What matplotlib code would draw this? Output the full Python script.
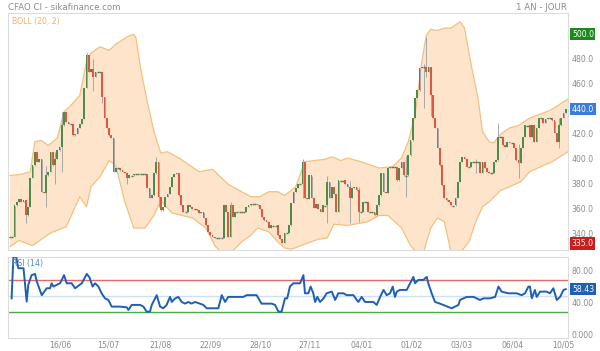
import numpy as np
import matplotlib
matplotlib.use("Agg")
import matplotlib.pyplot as plt
from matplotlib.transforms import blended_transform_factory, offset_copy

# daily closes (one per trading day)
closes = [
    338, 338, 363, 366, 368, 366, 367, 355, 362, 385,
    395, 406, 398, 400, 374, 373, 387, 390, 406, 395,
    400, 407, 410, 427, 438, 430, 428, 428, 419, 420,
    425, 428, 432, 457, 483, 470, 472, 466, 470, 470,
    470, 450, 433, 425, 419, 417, 390, 393, 393, 391,
    390, 389, 385, 387, 387, 388, 388, 388, 388, 388,
    388, 377, 369, 371, 389, 398, 370, 359, 362, 370,
    372, 378, 386, 388, 389, 371, 363, 358, 358, 363,
    362, 360, 360, 359, 357, 358, 353, 347, 342, 339,
    338, 337, 337, 337, 337, 363, 358, 338, 363, 354,
    358, 358, 358, 358, 358, 362, 363, 364, 364, 364,
    363, 360, 354, 351, 350, 345, 347, 347, 347, 339,
    336, 333, 341, 341, 347, 365, 374, 377, 380, 380,
    398, 369, 368, 387, 369, 361, 364, 360, 358, 363,
    363, 382, 369, 378, 372, 358, 383, 383, 383, 380,
    378, 369, 377, 378, 375, 358, 358, 366, 366, 358,
    358, 358, 355, 363, 371, 389, 374, 373, 393, 394,
    394, 394, 383, 393, 398, 387, 387, 403, 415, 433,
    449, 455, 473, 474, 474, 470, 474, 451, 433, 425,
    409, 395, 379, 369, 367, 366, 363, 363, 369, 382,
    398, 402, 400, 394, 394, 398, 398, 398, 398, 389,
    398, 393, 390, 389, 389, 398, 399, 418, 418, 411,
    410, 414, 413, 413, 409, 399, 397, 409, 418, 427,
    427, 418, 427, 414, 425, 433, 433, 429, 432, 433,
    433, 431, 421, 414, 427, 433, 437, 440,
]

# visible long wicks
wick_idx = [7, 16, 20, 23, 34, 37, 41, 52, 65, 66, 98, 130, 141, 151, 155,
            176, 184, 185, 187, 207, 217, 226, 244]
wick_low = [349, 362, 380, 390, 457, 455, 445, 380, 388, 362, 338, 369, 349,
            349, 350, 370, 441, 466, 435, 389, 411, 385, 409]
wick_high = [367, 395, 406, 438, 485, 480, 470, 390, 402, 398, 366, 400, 387,
             383, 378, 403, 476, 498, 474, 400, 429, 412, 433]

# Bollinger (20, 2) bands
up_idx = [0, 5, 9, 11, 14, 17, 21, 24, 27, 31, 34, 36, 40, 44, 47, 52, 55, 56,
          58, 61, 64, 67, 70, 76, 84, 90, 94, 97, 100, 107, 111, 115, 119,
          122, 127, 131, 140, 143, 147, 150, 156, 164, 170, 174, 177, 180,
          183, 185, 187, 190, 193, 196, 200, 202, 203, 205, 208, 210, 213,
          215, 218, 222, 226, 231, 237, 241, 246, 248]
up_val = [387, 388, 390, 414, 415, 411, 417, 438, 443, 451, 478, 485, 490, 487,
          492, 498, 500, 497, 473, 446, 422, 405, 406, 400, 390, 392, 385,
          380, 377, 370, 370, 374, 374, 371, 378, 398, 400, 402, 399, 401,
          398, 393, 394, 401, 414, 435, 478, 499, 504, 503, 505, 505, 510,
          505, 495, 475, 449, 422, 414, 413, 420, 425, 427, 433, 437, 440,
          446, 448]
lo_idx = [0, 4, 10, 18, 25, 29, 31, 34, 36, 40, 44, 47, 51, 55, 60, 64, 67,
          72, 81, 87, 91, 94, 98, 103, 107, 110, 115, 119, 122, 125, 128,
          131, 137, 141, 144, 150, 159, 164, 168, 174, 178, 181, 184, 187,
          190, 193, 196, 200, 204, 207, 210, 213, 218, 222, 227, 231, 237,
          241, 248]
lo_val = [330, 335, 331, 341, 346, 362, 370, 362, 378, 386, 399, 395, 366,
          345, 345, 355, 367, 357, 353, 345, 331, 325, 325, 334, 339, 345,
          342, 334, 329, 328, 330, 332, 336, 337, 348, 347, 350, 355, 355,
          345, 331, 325, 327, 345, 353, 350, 326, 325, 334, 350, 362, 366,
          375, 378, 382, 390, 395, 398, 406]

# RSI (14)
rsi_idx = [0.7, 1.5, 2.7, 3.7, 6, 7.4, 8.1, 9.6, 11.1, 11.9, 14.1, 16.3, 17.8,
           18.5, 19.3, 20.7, 22.2, 23, 24, 25.2, 27.4, 28.9, 31.9, 34.1, 35.3,
           36.7, 37.8, 39.3, 40.7, 42.2, 43.7, 45.2, 47.4, 48.9, 51.9, 52.6,
           54.1, 57.8, 59.3, 60.7, 62.2, 63, 65.2, 66.7, 68.1, 69.6, 71.1,
           71.9, 73.3, 74.8, 76.3, 77.8, 79.3, 80.7, 82.2, 84.4, 85.9, 87.4,
           90.4, 92.6, 94.1, 95.6, 97, 99.3, 103.7, 105.2, 109.6, 111.8,
           116.3, 117.8, 119.3, 120.7, 122.2, 123.2, 124.4, 125.9, 128.9,
           130.4, 131.1, 132.6, 133.6, 134.8, 135.6, 136.6, 137.8, 139.3,
           140.7, 143, 144.5, 145.9, 148.2, 149.6, 152.6, 154.8, 156.3, 157.8,
           161.5, 163, 164.5, 166, 167.4, 168.9, 170.1, 171.1, 171.9, 173.3,
           176.3, 177.8, 179.3, 180, 181.5, 183.7, 185.2, 185.9, 187.4, 188.9,
           191.1, 194.1, 196.3, 197.8, 199.3, 200, 201.5, 203, 206, 208.9,
           210.4, 213.3, 215.6, 217.1, 218.5, 221.5, 225.2, 227.4, 228.9,
           230.4, 231.1, 231.9, 233.3, 234.1, 235.6, 238.5, 240, 241.5, 243,
           244.5, 246, 247]
rsi_val = [47, 99, 99, 84.6, 84.6, 43, 63.8, 76, 77.5, 68, 51, 59.6, 59.6,
           65.8, 61.7, 63.8, 65.8, 70, 76, 65.8, 65.8, 59.6, 65.8, 77.5, 73.3,
           61.7, 65.8, 61.7, 53.3, 47, 45, 36.7, 36.7, 36.7, 35.8, 32.5, 38.8,
           38.8, 36.7, 30.4, 30.4, 38.8, 51, 36.7, 34.6, 38.8, 48.8, 42.5,
           46.7, 48.8, 42.5, 40.4, 42.5, 40.4, 42.5, 40.4, 38.8, 34.6, 34.6,
           34.6, 51, 42.5, 48.8, 48.8, 48.8, 51, 51, 40.4, 40.4, 38.8, 30.4,
           30.4, 47, 47, 61.7, 65.8, 65.8, 76, 53.3, 53.3, 61.7, 53.3, 42.5,
           48.8, 42.5, 46.7, 53.3, 55.4, 45, 53.3, 53.3, 51, 51, 42.5, 48.8,
           42.5, 42.5, 38.8, 48.8, 57.5, 51, 53.3, 61.7, 48.8, 55.4, 57.5,
           57.5, 65.8, 73.8, 65.8, 70, 70, 73.8, 65.8, 53.3, 42.5, 40.4, 37,
           34.6, 36.7, 38.8, 45, 47, 48.8, 48.8, 45, 47, 47, 48.8, 61.7, 55.4,
           53.3, 53.3, 51, 53.3, 61.7, 61.7, 47, 57.5, 48.8, 55.4, 55.4, 53.3,
           59.6, 45, 48.8, 57.5, 58.43]

date_labels = ["16/06", "15/07", "21/08", "22/09", "28/10", "27/11",
               "04/01", "01/02", "03/03", "06/04", "10/05"]
date_idx = [22.5, 43.6, 66.7, 88.9, 111.4, 133.3, 156.3, 178.5, 200.9,
            223.6, 245.8]

price_ticks = [340, 360, 380, 400, 420, 460, 480]
period_high = 500.0
period_low = 335.0
rsi_ticks = [0, 40, 80]

GREEN = "#4b8c4b"
RED = "#e2553f"
GRAY_TXT = "#8a8a8a"

fig = plt.figure(figsize=(6.0, 3.51), dpi=100)
ax = fig.add_axes([8 / 600, 1 - 250 / 351, 560 / 600, 237 / 351])
ax2 = fig.add_axes([8 / 600, 1 - 338 / 351, 560 / 600, 81.3 / 351])

n = len(closes)
x = np.arange(n)
c = np.array(closes, dtype=float)
o = np.r_[c[0], c[:-1]]
hi = np.maximum(o, c)
lo = np.minimum(o, c)
for i, l, h in zip(wick_idx, wick_low, wick_high):
    lo[i] = min(lo[i], l)
    hi[i] = max(hi[i], h)

# bands
poly_x = np.r_[up_idx, lo_idx[::-1]]
poly_y = np.r_[up_val, lo_val[::-1]]
ax.fill(poly_x, poly_y, color="#fde4cb", zorder=1, lw=0)
ax.plot(up_idx, up_val, color="#f1c27f", lw=0.9, zorder=2)
ax.plot(lo_idx, lo_val, color="#f1c27f", lw=0.9, zorder=2)

# candles
ax.vlines(x, lo, hi, color="#a8a8a8", lw=0.7, zorder=3)
up = c > o
dn = c < o
flat = c == o
ax.bar(x[up], (c - o)[up], bottom=o[up], width=0.85, color=GREEN, zorder=4)
ax.bar(x[dn], (o - c)[dn], bottom=c[dn], width=0.85, color=RED, zorder=4)
ax.hlines(c[flat], x[flat] - 0.45, x[flat] + 0.45, color="#557755", lw=1.0, zorder=4)

ax.set_xlim(-0.9, 248)
ax.set_ylim(327.4, 517)
ax.set_xticks([])
ax.set_yticks([])
for s in ax.spines.values():
    s.set_color("#dcdcdc")
    s.set_linewidth(0.8)

tr = blended_transform_factory(ax.transAxes, ax.transData)
for p in price_ticks:
    ax.text(1.007, p, f"{p:.1f}", transform=tr, ha="left", va="center",
            fontsize=5.6, color=GRAY_TXT)
box = dict(boxstyle="square,pad=0.2", lw=0)
ax.text(1.007, period_high, f"{period_high:.1f}", transform=tr, ha="left",
        va="center", fontsize=5.6, color="white",
        bbox=dict(box, facecolor="#1a8a1a"))
ax.text(1.007, closes[-1], f"{closes[-1]:.1f}", transform=tr, ha="left",
        va="center", fontsize=5.6, color="white",
        bbox=dict(box, facecolor="#3b7ddd"))
# low label box sits a little lower so it clears the 340.0 label
ax.text(1.007, period_low, f"{period_low:.1f}",
        transform=offset_copy(tr, fig=fig, y=-3, units="dots"), ha="left",
        va="center", fontsize=5.6, color="white",
        bbox=dict(box, facecolor="#c81e1e"))

ax.text(0.007, 0.985, "BOLL (20, 2)", transform=ax.transAxes, ha="left",
        va="top", fontsize=5.6, color="#f0b25f")
fig.text(8 / 600, 1 - 7 / 351, "CFAO CI - sikafinance.com", ha="left",
         va="center", fontsize=6.2, color="#8c8c8c")
fig.text(567 / 600, 1 - 7 / 351, "1 AN - JOUR", ha="right", va="center",
         fontsize=6.2, color="#8c8c8c")

# RSI panel
ax2.axhline(70, color="#e36a6a", lw=1.0, zorder=1)
ax2.axhline(50, color="#cfe0f3", lw=1.0, zorder=1)
ax2.axhline(30, color="#4aa84a", lw=1.0, zorder=1)
ax2.plot(rsi_idx, rsi_val, color="#1f5fb4", lw=1.4, zorder=3)
ax2.set_xlim(-0.9, 248)
ax2.set_ylim(-2.5, 99)
ax2.set_yticks([])
ax2.set_xticks(date_idx)
ax2.set_xticklabels(date_labels)
ax2.tick_params(axis="x", length=0, pad=2, labelsize=5.6, labelcolor=GRAY_TXT)
for s in ax2.spines.values():
    s.set_color("#dcdcdc")
    s.set_linewidth(0.8)

tr2 = blended_transform_factory(ax2.transAxes, ax2.transData)
for r in rsi_ticks:
    lab = "0.000" if r == 0 else f"{r:.2f}"
    ax2.text(1.007, r, lab, transform=tr2, ha="left", va="center",
             fontsize=5.6, color=GRAY_TXT)
ax2.text(1.007, rsi_val[-1], f"{rsi_val[-1]:.2f}", transform=tr2, ha="left",
         va="center", fontsize=5.6, color="white",
         bbox=dict(box, facecolor="#1f5fb4"))
ax2.text(0.007, 0.97, "RSI (14)", transform=ax2.transAxes, ha="left",
         va="top", fontsize=5.6, color="#4f86c6")

fig.savefig("out.png", dpi=100, facecolor="white")
